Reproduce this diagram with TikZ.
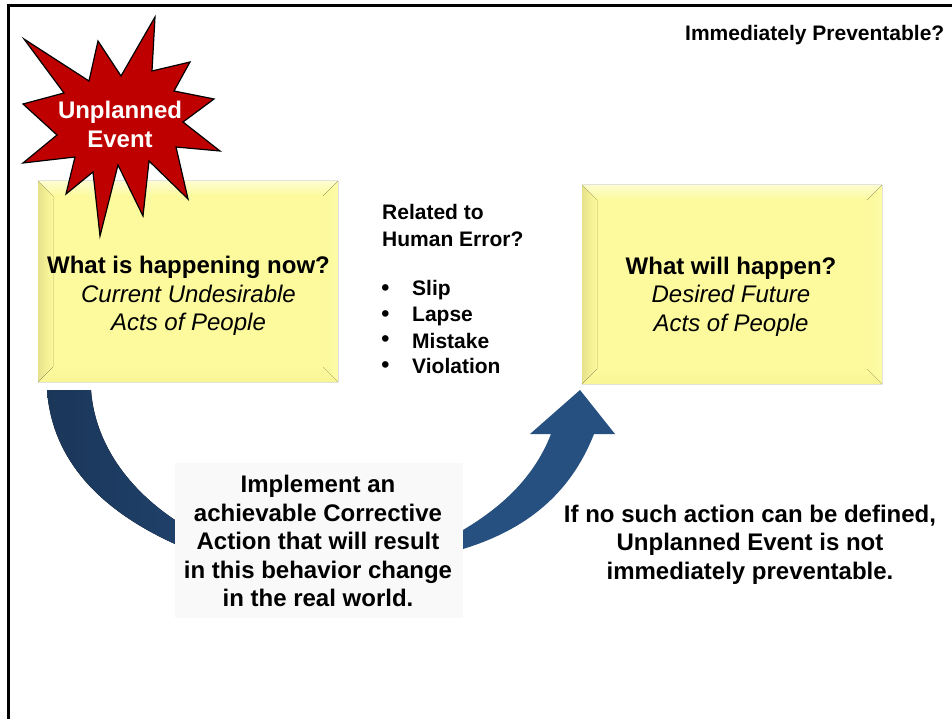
\documentclass[tikz,border=0pt]{standalone}
\usepackage{fontspec}
\setmainfont{Liberation Sans}
\begin{document}
\begin{tikzpicture}[x=1pt,y=-1pt,
  big/.style={font=\fontsize{24}{28.5}\selectfont,align=center,text=black,inner sep=0pt},
  bigbold/.style={big,font=\bfseries\fontsize{24}{28.5}\selectfont},
  small/.style={font=\bfseries\fontsize{21}{26}\selectfont,text=black,inner sep=0pt},
  dot/.style={small,font=\bfseries\fontsize{23}{23}\selectfont},
  frameline/.style={draw=black,line width=2.4pt}]
\useasboundingbox (0,0) rectangle (952,719);
\definecolor{boxmain}{HTML}{FCFA9C}
\definecolor{bevtop}{HTML}{FEFDD0}
\definecolor{bevleft}{HTML}{E6E28C}
\definecolor{bevright}{HTML}{FDFBA6}
\definecolor{bevbot}{HTML}{F8F597}
\definecolor{navyA}{HTML}{1F4069}
\definecolor{navyB}{HTML}{25507F}
\definecolor{starred}{HTML}{BF0000}
\tikzset{pics/bevelbox/.style args={#1/#2}{code={
  \fill[boxmain] (0,0) rectangle (#1,#2);
  \fill[top color=bevtop,bottom color=boxmain] (0,0) -- (#1,0) -- (#1-15,15) -- (15,15) -- cycle;
  \fill[left color=bevleft,right color=boxmain] (0,0) -- (15,15) -- (15,#2-15) -- (0,#2) -- cycle;
  \fill[right color=bevright,left color=boxmain] (#1,0) -- (#1-15,15) -- (#1-15,#2-15) -- (#1,#2) -- cycle;
  \fill[bottom color=bevbot,top color=boxmain] (0,#2) -- (15,#2-15) -- (#1-15,#2-15) -- (#1,#2) -- cycle;
}}}
% frame
\draw[frameline] (8.5,719) -- (8.5,5.5) -- (952,5.5);
% boxes
\pic at (38,181) {bevelbox=300/201};
\pic at (582,185) {bevelbox=300/199};
% left arrow
\fill[left color=navyA!85!black,right color=navyA]
  (47,390) -- (91,390) .. controls (95,445) and (130,490) .. (175,520)
  -- (175,544) .. controls (100,510) and (52,460) .. (47,390) -- cycle;
% right arrow
\fill[navyB]
  (463,530) .. controls (505,505) and (535,475) .. (551,434)
  -- (530,434) -- (580,390) -- (615,434) -- (594,434)
  .. controls (570,495) and (525,530) .. (463,549) -- cycle;
% action box
\node[fill=black!2.5,minimum width=288pt,minimum height=155pt,inner sep=0pt] (actionbox) at (319,540.5) {};
\node[bigbold] (actiontext) at (318,541)
  {Implement an\\achievable Corrective\\Action that will result\\in this behavior change\\in the real world.};
% star
\draw[fill=starred,draw=black,line width=1.2pt,line join=miter,miter limit=10]
 (155,17) -- (152,71) -- (190,62) -- (174,91) -- (214,99) -- (183,122) -- (220,151)
 -- (176,147) -- (188,199) -- (149,161) -- (143,216) -- (118,165) -- (100,236)
 -- (93,172) -- (66,194) -- (75,157) -- (23,163) -- (57,135) -- (23,104) -- (64,93)
 -- (24,39) -- (89,81) -- (98,41) -- (121,76) -- cycle;
\node[bigbold,text=white] (startext) at (120,124.5) {Unplanned\\Event};
% box texts
\node[big] (nowtext) at (188.5,296) {\textbf{What is happening now?}\\\textit{Current Undesirable}\\\textit{Acts of People}};
\node[big] (willtext) at (731,296.5) {\textbf{What will happen?}\\\textit{Desired Future}\\\textit{Acts of People}};
% note texts
\node[small,anchor=east] (prevtext) at (944.5,35) {Immediately Preventable?};
\node[small,anchor=west,align=left,font=\bfseries\fontsize{21}{27}\selectfont] (reltext) at (382,225.5) {Related to\\Human Error?};
\node[small,anchor=west] (b1) at (412,290.5) {Slip};
\node[small,anchor=west] (b2) at (412,316.5) {Lapse};
\node[small,anchor=west] (b3) at (412,340.5) {Mistake};
\node[small,anchor=west] (b4) at (412,366) {Violation};
\node[dot] (d1) at (385.5,290) {•};
\node[dot] (d2) at (385.5,316) {•};
\node[dot] (d3) at (385.5,341) {•};
\node[dot] (d4) at (385.5,367) {•};
\node[bigbold] (iftext) at (750,544.5) {If no such action can be defined,\\Unplanned Event is not\\immediately preventable.};
\end{tikzpicture}
\end{document}
